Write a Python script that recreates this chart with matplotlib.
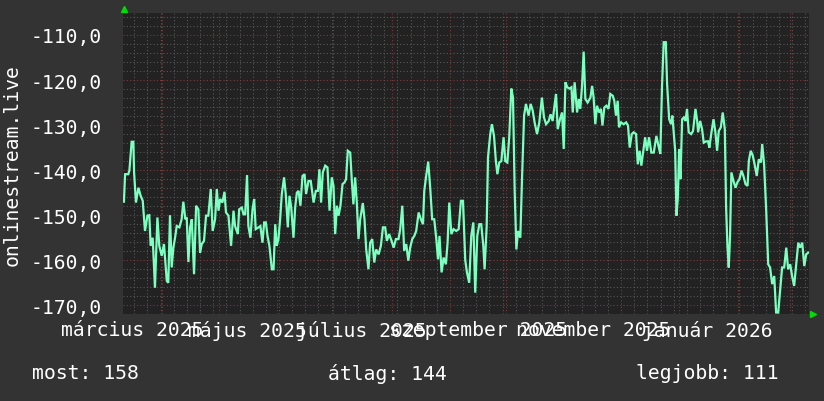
import datetime as dt

import matplotlib

matplotlib.use("Agg")

import matplotlib.dates as mdates
import matplotlib.pyplot as plt
from matplotlib.ticker import MultipleLocator

# --- data ------------------------------------------------------------------
START = dt.datetime(2025, 3, 11)
SPAN_DAYS = 365.0

DAYS = [
    0.5, 1.1, 2.8, 3.4, 4.6, 5.5, 5.9, 6.9, 8.2, 9.4, 10.5, 11.7, 13.0, 14.0,
    14.7, 15.8, 17.0, 18.3, 19.3, 20.6, 21.8, 23.3, 24.1, 25.0, 25.9, 26.8,
    27.7, 28.6, 30.0, 31.2, 32.1, 33.2, 33.9, 34.8, 35.7, 36.6, 37.8, 38.9,
    40.1, 41.0, 41.9, 43.1, 44.2, 45.4, 46.7, 47.7, 49.0, 49.9, 50.8, 51.7,
    52.9, 54.0, 54.8, 56.1, 57.5, 58.8,
    59.6, 61.1, 61.8, 63.2, 64.1, 65.0, 66.0, 66.7, 67.8, 68.9, 69.8, 70.6,
    72.1, 73.1, 74.2, 75.1, 76.0, 76.9, 77.9, 79.2, 80.1, 81.0, 81.8, 82.7,
    83.6, 84.5, 85.7, 86.6, 87.7, 88.6, 89.5, 90.7, 91.6, 92.5, 93.4, 94.4,
    95.5, 96.6, 97.4, 98.7, 99.9, 101.4, 102.6, 103.7, 104.5, 105.4, 106.3,
    107.6, 108.8, 109.9, 111.1, 112.0, 112.9, 113.8, 114.7, 115.7, 116.8,
    117.9, 118.7, 119.6,
    120.9, 121.8, 122.6, 123.5, 124.4, 125.3, 126.2, 127.6, 128.5, 129.4,
    130.6, 131.5, 132.6, 133.7, 134.7, 136.0, 137.2, 138.3, 139.5, 140.4,
    141.6, 142.9, 144.0, 145.2, 146.6, 147.5, 148.6, 149.6, 150.7, 151.8,
    152.8, 153.9, 155.0, 156.0, 157.3, 158.5, 159.6, 160.3, 161.3, 162.4,
    163.5, 164.5, 165.6, 166.7, 167.6, 168.4, 169.5, 170.6, 171.8, 172.7,
    173.6, 174.7, 175.9, 177.3, 178.6, 179.8, 180.9,
    182.1, 183.0, 184.2, 185.3, 186.4, 187.4, 188.5, 189.6, 190.6, 191.7,
    192.4, 193.5, 194.2, 195.4, 196.3, 197.4, 198.4, 199.2, 200.2, 201.3,
    202.5, 203.4, 204.5, 205.5, 206.6, 207.5, 208.4, 209.3, 210.2, 211.4,
    212.3, 213.4, 214.4, 215.8, 216.9, 218.0, 219.0, 220.3, 221.5, 222.9,
    224.0, 225.1, 226.5, 227.5, 228.6, 229.7, 230.4, 231.3, 232.5, 233.6,
    234.5, 235.4, 236.4, 237.5, 238.6, 239.3, 240.3, 241.6, 242.5,
    243.3, 244.2, 245.1, 246.0, 247.2, 248.7, 249.6, 250.4, 251.3, 252.2,
    253.3, 254.3, 255.1, 256.1, 257.2, 258.3, 259.3, 260.6, 261.4, 262.3,
    263.2, 263.9, 265.0, 266.4, 267.7, 268.7, 269.6, 270.7, 271.7, 273.0,
    273.9, 274.9, 275.8, 276.7, 277.8, 278.8, 279.9, 281.1, 282.4, 283.8,
    284.9, 285.9, 286.8, 287.7, 288.8, 289.5, 290.6, 291.6, 292.3, 293.0,
    293.8, 294.5, 295.2, 295.9, 296.6, 297.5, 298.4, 299.3, 300.1, 301.0,
    302.3, 303.3,
    304.6, 305.5, 306.0, 307.1, 308.1, 309.0, 310.3, 311.3, 312.0, 313.1,
    314.2, 315.2, 316.1, 317.0, 318.1, 319.1, 320.2, 320.9, 321.6, 322.3,
    323.0, 323.7, 324.8, 325.9, 326.9, 328.0, 329.1, 330.1, 331.2, 332.3,
    333.0, 334.0, 335.1, 336.2, 337.2, 338.3, 339.4, 340.1, 341.1, 342.2,
    343.3, 344.3, 345.4, 346.5, 347.5, 348.6, 349.7, 350.7, 351.8, 352.9,
    353.9, 355.0, 356.0, 357.1, 358.2, 359.3, 360.3, 361.4, 362.5, 363.5,
    364.6,
]

VALUES = [
    -147.0, -140.9, -140.9, -140.1, -133.7, -133.7, -140.5, -147.2, -143.9,
    -145.7, -146.8, -153.5, -150.1, -150.0, -156.8, -155.0, -166.1, -150.5,
    -156.8, -159.0, -156.4, -164.6, -165.0, -150.0, -161.6, -157.2, -155.0,
    -152.4, -152.7, -150.9, -147.0, -150.9, -150.5, -160.4, -152.7, -150.9,
    -163.1, -147.9, -148.7, -158.3, -156.4, -155.7, -150.1, -150.1, -144.2,
    -153.5, -150.9, -144.2, -149.0, -146.4, -147.2, -144.8, -149.4, -150.1,
    -156.8, -149.0,
    -152.4, -154.2, -148.7, -148.3, -149.8, -149.8, -141.1, -152.4, -155.0,
    -148.7, -146.4, -153.1, -152.7, -152.4, -156.1, -151.6, -151.6, -154.6,
    -156.8, -162.0, -162.0, -152.0, -156.8, -155.3, -150.9, -145.3, -141.6,
    -145.3, -152.7, -145.7, -148.3, -155.0, -148.3, -145.0, -144.6, -147.9,
    -141.3, -140.9, -145.3, -142.4, -142.4, -147.2, -144.6, -144.6, -139.8,
    -147.2, -140.5, -139.0, -139.4, -149.0, -141.6, -143.5, -154.2, -147.9,
    -150.1, -147.9, -143.1, -142.7, -142.0, -135.7,
    -136.1, -142.7, -147.6, -141.6, -147.2, -155.3, -150.9, -147.3, -150.9,
    -157.6, -162.0, -156.1, -155.3, -160.5, -157.6, -158.7, -156.8, -152.7,
    -152.7, -155.7, -154.2, -155.7, -157.2, -155.3, -155.3, -153.1, -147.9,
    -157.9, -156.4, -160.1, -157.2, -155.3, -154.6, -153.5, -149.4, -150.9,
    -152.0, -144.6, -141.3, -138.1, -144.2, -150.9, -150.9, -155.3, -159.8,
    -154.6, -162.7, -159.4, -160.9, -156.1, -147.2, -154.2, -153.1, -153.5,
    -153.1, -146.8, -146.8,
    -160.0, -162.7, -165.0, -154.6, -151.6, -167.2, -154.6, -152.0, -152.0,
    -156.8, -162.0, -152.4, -137.2, -132.0, -129.8, -132.4, -138.0, -140.9,
    -138.3, -138.0, -132.7, -138.0, -138.3, -132.7, -121.9, -123.9, -144.6,
    -157.6, -153.5, -155.0, -142.0, -127.9, -125.3, -127.9, -125.3, -126.8,
    -129.4, -132.0, -129.4, -123.9, -128.3, -129.8, -129.1, -127.6, -129.1,
    -125.3, -123.1, -130.9, -128.7, -127.2, -135.3, -120.5, -121.6, -121.9,
    -121.6, -127.2, -120.5, -127.2, -124.2,
    -126.4, -121.6, -113.7, -124.2, -125.0, -123.9, -121.3, -123.9, -129.8,
    -125.7, -127.2, -126.4, -130.1, -126.1, -125.7, -126.4, -123.1, -123.5,
    -124.6, -127.9, -124.6, -130.5, -129.4, -129.8, -129.4, -130.1, -135.0,
    -132.0, -131.6, -132.0, -138.7, -135.7, -139.0, -136.1, -132.7, -135.7,
    -132.7, -136.1, -136.1, -132.4, -134.6, -136.4, -121.3, -111.6, -111.6,
    -120.9, -128.7, -129.8, -127.9, -131.6, -135.7, -150.1, -146.1, -135.3,
    -142.0, -128.7, -128.3, -129.1, -126.4, -131.6, -132.0, -131.3,
    -126.4, -129.1, -131.6, -129.1, -130.9, -133.9, -133.6, -133.6, -135.0,
    -131.6, -128.7, -131.6, -135.7, -131.3, -130.5, -127.2, -130.9, -148.3,
    -156.8, -161.6, -154.6, -140.5, -142.4, -143.9, -142.7, -142.0, -140.1,
    -141.3, -143.1, -143.5, -137.9, -135.7, -136.8, -139.0, -141.3, -137.6,
    -138.3, -134.2, -138.7, -148.7, -160.9, -161.6, -165.3, -163.5, -171.6,
    -171.6, -166.4, -161.6, -161.6, -157.2, -162.0, -160.9, -163.5, -165.7,
    -160.9, -156.1, -157.2, -156.1, -161.3, -158.7, -158.3,
]

Y_TICKS = [-110, -120, -130, -140, -150, -160, -170]
Y_TICK_LABELS = ["-110,0", "-120,0", "-130,0", "-140,0", "-150,0", "-160,0", "-170,0"]
Y_RANGE = (-171.93, -105.12)

MONTH_LABELS = [
    "március 2025", "május 2025", "július 2025",
    "szeptember 2025", "november 2025", "január 2026",
]
MONTH_LABEL_DATES = [
    dt.datetime(2025, 3, 16), dt.datetime(2025, 5, 16), dt.datetime(2025, 7, 16),
    dt.datetime(2025, 9, 16), dt.datetime(2025, 11, 16), dt.datetime(2026, 1, 16),
]

Y_LABEL = "onlinestream.live"
LEGEND_NAMES = ["most", "átlag", "legjobb"]
LEGEND_VALUES = [158, 144, 111]

# --- style -----------------------------------------------------------------
W, H = 824, 402
BG = "#333333"
PLOT_BG = "#222222"
LINE = "#7dffc0"
MAJOR_GRID = "#803838"
MINOR_GRID = "#575757"
ARROW = "#00dd00"
FONT = "DejaVu Sans Mono"
FS = 14.2

plt.rcParams["font.family"] = FONT

fig = plt.figure(figsize=(W / 100, H / 100), dpi=100, facecolor=BG)
left, right, top, bottom = 123, 809, 14, 315
ax = fig.add_axes([left / W, 1 - bottom / H, (right - left) / W, (bottom - top) / H])
ax.set_facecolor(PLOT_BG)

dates = [START + dt.timedelta(days=d) for d in DAYS]
ax.plot(dates, VALUES, color=LINE, linewidth=1.6, solid_joinstyle="miter", zorder=3)

ax.set_xlim(START, START + dt.timedelta(days=SPAN_DAYS))
ax.set_ylim(*Y_RANGE)

ax.xaxis.set_major_locator(mdates.MonthLocator())
ax.xaxis.set_minor_locator(mdates.WeekdayLocator(byweekday=mdates.MO))
ax.set_yticks(Y_TICKS, Y_TICK_LABELS)
ax.yaxis.set_minor_locator(MultipleLocator(2))

ax.grid(which="minor", color=MINOR_GRID, linestyle=(0, (1, 2)), linewidth=0.8, zorder=1)
ax.grid(which="major", color=MAJOR_GRID, linestyle=(0, (1, 2)), linewidth=0.8, zorder=2)

ax.tick_params(axis="x", which="both", length=0, labelbottom=False)
ax.tick_params(axis="y", which="both", length=0, pad=15, labelcolor="white", labelsize=FS)
for spine in ax.spines.values():
    spine.set_visible(False)

for label, when in zip(MONTH_LABELS, MONTH_LABEL_DATES):
    ax.text(when, -0.053, label, transform=ax.get_xaxis_transform(),
            ha="center", va="center", color="white", fontsize=FS, clip_on=False)

fig.text(12 / W, 1 - 165 / H, Y_LABEL, rotation=90, ha="center", va="center",
         color="white", fontsize=FS)

legend_x = [32, 328, 636]
for x, name, value in zip(legend_x, LEGEND_NAMES, LEGEND_VALUES):
    fig.text(x / W, 1 - 374 / H, f"{name}: {value}", ha="left", va="center",
             color="white", fontsize=FS)

# rrdtool style axis arrows
ax.plot([0.002], [1.013], marker="^", markersize=5, color=ARROW,
        transform=ax.transAxes, clip_on=False, zorder=5)
ax.plot([1.006], [0.0], marker=">", markersize=5, color=ARROW,
        transform=ax.transAxes, clip_on=False, zorder=5)

fig.savefig("out.png", dpi=100, facecolor=BG)
